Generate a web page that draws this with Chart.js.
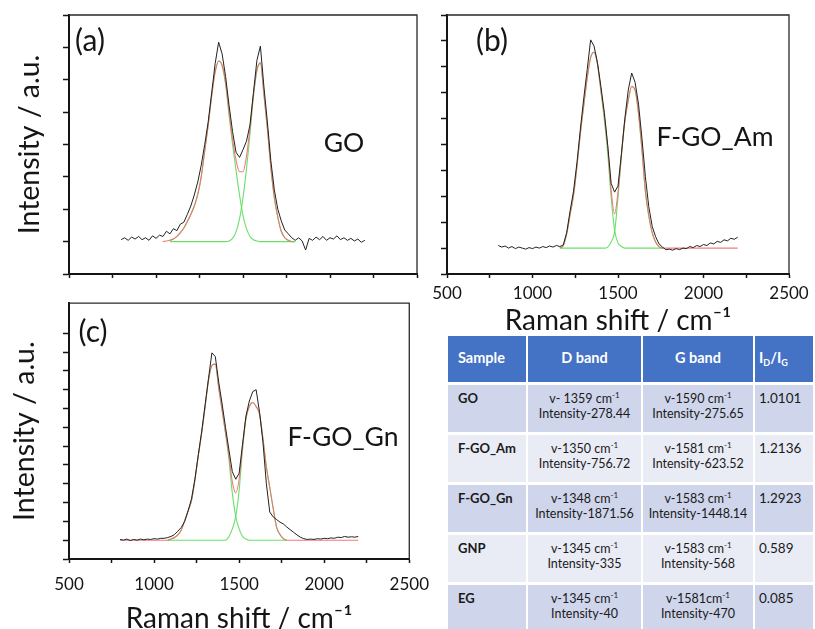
<!DOCTYPE html>
<html>
<head>
<meta charset="utf-8">
<title>Raman spectra</title>
<script src="https://cdn.jsdelivr.net/npm/chart.js@4"></script>
<style>
  html, body { margin: 0; padding: 0; background: #fff; }
  body { width: 815px; height: 629px; position: relative; overflow: hidden;
         font-family: "Lato", "Open Sans", sans-serif; color: #1a1a1a; }
  canvas { position: absolute; }
  #chartA { left: 0; top: 0; }
  #chartB { left: 425px; top: 0; }
  #chartC { left: 0; top: 296px; }

  /* ===== table ===== */
  .band-table { position: absolute; left: 448px; top: 336px; display: grid;
                grid-template-columns: 78px 113px 110px 58px;
                grid-template-rows: 46px 47px 47px 47px 47px 47px;
                column-gap: 2px; row-gap: 3px; font-size: 12.5px; line-height: 15px; }
  .band-table div { box-sizing: border-box; padding-top: 6px; }
  .band-table .hd { background: #4472c4; color: #fff; font-weight: bold; font-size: 14.5px;
                    padding-top: 14px; text-align: center; }
  .band-table .hd.l { text-align: left; padding-left: 10px; }
  .band-table .hd.r { text-align: left; padding-left: 4px; }
  .band-table .dark { background: #cfd5ea; }
  .band-table .light { background: #e9ebf5; }
  .band-table .name { font-weight: bold; padding-left: 10px; font-size: 13px; }
  .band-table .mid { text-align: center; }
  .band-table .ratio { padding-left: 4px; font-size: 13.5px; }
  sup { font-size: 8px; vertical-align: 5px; line-height: 0; }
  sub { font-size: 9px; vertical-align: -3px; line-height: 0; }
</style>
</head>
<body>

<canvas id="chartA" width="425" height="300"></canvas>
<canvas id="chartB" width="390" height="335"></canvas>
<canvas id="chartC" width="440" height="337"></canvas>

<div class="band-table" id="bandTable"></div>

<script>
/* =========================
   DATA
========================= */

const ramanShift = [
    800, 820, 840, 860, 880, 900, 920, 940, 960, 980,
    1000, 1020, 1040, 1060, 1080, 1100, 1120, 1140, 1160, 1180,
    1200, 1220, 1240, 1260, 1280, 1300, 1320, 1340, 1360, 1380,
    1400, 1420, 1440, 1460, 1480, 1500, 1520, 1540, 1560, 1580,
    1600, 1620, 1640, 1660, 1680, 1700, 1720, 1740, 1760, 1780,
    1800, 1820, 1840, 1860, 1880, 1900, 1920, 1940, 1960, 1980,
    2000, 2020, 2040, 2060, 2080, 2100, 2120, 2140, 2160, 2180, 2200
];

const shiftTicks = [500, 1000, 1500, 2000, 2500];

/* (a) GO */
const goRaw = [
    0.03, 0.06, 0.02, 0.07, 0.04, 0.08, 0.03, 0.06, 0.02, 0.09,
    0.05, 0.10, 0.08, 0.16, 0.12, 0.20, 0.17, 0.27, 0.30, 0.42,
    0.55, 0.72, 0.92, 1.18, 1.50, 1.85, 2.30, 2.75, 3.08, 2.90,
    2.55, 2.10, 1.70, 1.38, 1.30, 1.42, 1.55, 1.80, 2.30, 2.80,
    3.02, 2.40, 1.85, 1.25, 0.80, 0.50, 0.32, 0.18, 0.12, 0.06,
    0.02, 0.06, 0.01, -0.13, 0.05, 0.02, 0.07, 0.03, 0.08, 0.02,
    0.06, 0.04, 0.09, 0.03, 0.06, 0.02, 0.05, 0.01, 0.04, -0.01, 0.02
];
const goFit = [
    null, null, null, null, null, null, null, null, null, null,
    null, null, 0.00, 0.01, 0.02, 0.04, 0.08, 0.14, 0.21, 0.31,
    0.42, 0.55, 0.73, 1.00, 1.40, 1.80, 2.25, 2.62, 2.79, 2.72,
    2.45, 2.00, 1.58, 1.26, 1.08, 1.08, 1.32, 1.75, 2.27, 2.65,
    2.76, 2.28, 1.75, 1.15, 0.68, 0.38, 0.16, 0.06, 0.02, 0.00,
    null, null, null, null, null, null, null, null, null, null,
    null, null, null, null, null, null, null, null, null, null, null
];
const goD = [
    null, null, null, null, null, null, null, null, null, null,
    null, null, null, null, 0.02, 0.04, 0.08, 0.14, 0.21, 0.31,
    0.42, 0.55, 0.73, 1.00, 1.40, 1.80, 2.25, 2.62, 2.79, 2.72,
    2.43, 1.95, 1.50, 1.10, 0.72, 0.40, 0.20, 0.08, 0.03, 0.01,
    0, 0, 0, 0, 0, 0, 0, 0, 0, 0,
    0, null, null, null, null, null, null, null, null, null,
    null, null, null, null, null, null, null, null, null, null, null
];
const goG = [
    null, null, null, null, null, null, null, null, null, null,
    null, null, null, null, 0, 0, 0, 0, 0, 0,
    0, 0, 0, 0, 0, 0, 0, 0, 0, 0,
    0, 0.01, 0.05, 0.15, 0.35, 0.68, 1.12, 1.66, 2.24, 2.64,
    2.76, 2.28, 1.75, 1.15, 0.68, 0.38, 0.16, 0.06, 0.02, 0,
    0, null, null, null, null, null, null, null, null, null,
    null, null, null, null, null, null, null, null, null, null, null
];

/* (b) F-GO_Am */
const amRaw = [
    0.05, 0.02, 0.04, 0.00, 0.03, -0.01, 0.02, 0.00, -0.02, 0.01,
    -0.01, 0.02, 0.00, 0.03, 0.01, 0.04, 0.02, 0.05, 0.03, 0.06,
    0.30, 0.72, 1.10, 1.65, 2.30, 2.90, 3.45, 4.02, 3.90, 3.58,
    3.12, 2.62, 1.98, 1.25, 1.08, 1.20, 1.82, 2.50, 3.05, 3.38,
    3.20, 2.78, 2.12, 1.38, 0.80, 0.42, 0.22, 0.08, 0.02, -0.03,
    -0.02, -0.04, -0.01, -0.03, 0.00, -0.01, 0.03, 0.01, 0.05, 0.03,
    0.07, 0.05, 0.10, 0.08, 0.13, 0.11, 0.16, 0.14, 0.19, 0.17, 0.21
];
const amFit = [
    null, null, null, null, null, null, null, null, null, null,
    null, null, null, null, null, null, null, null, 0.00, 0.05,
    0.28, 0.65, 1.02, 1.58, 2.22, 2.76, 3.28, 3.68, 3.78, 3.55,
    3.05, 2.55, 1.95, 1.12, 0.66, 1.08, 1.80, 2.45, 2.85, 3.12,
    3.05, 2.60, 1.90, 1.10, 0.62, 0.30, 0.12, 0.03, 0.00, 0,
    0, 0, 0, 0, 0, 0, 0, 0, 0, 0,
    0, 0, 0, 0, 0, 0, 0, 0, 0, 0, 0
];
const amD = [
    null, null, null, null, null, null, null, null, null, null,
    null, null, null, null, null, null, null, null, 0.00, 0.05,
    0.28, 0.65, 1.02, 1.58, 2.22, 2.76, 3.28, 3.68, 3.78, 3.55,
    3.03, 2.48, 1.82, 0.98, 0.35, 0.10, 0.03, 0.00, 0, 0,
    0, 0, 0, 0, 0, 0, 0, 0, 0, null,
    null, null, null, null, null, null, null, null, null, null,
    null, null, null, null, null, null, null, null, null, null, null
];
const amG = [
    null, null, null, null, null, null, null, null, null, null,
    null, null, null, null, null, null, null, null, 0, 0,
    0, 0, 0, 0, 0, 0, 0, 0, 0, 0,
    0, 0, 0.02, 0.12, 0.31, 0.98, 1.78, 2.45, 2.85, 3.12,
    3.05, 2.60, 1.90, 1.10, 0.62, 0.30, 0.12, 0.03, 0.00, null,
    null, null, null, null, null, null, null, null, null, null,
    null, null, null, null, null, null, null, null, null, null, null
];

/* (c) F-GO_Gn */
const gnRaw = [
    0.02, 0.00, 0.03, -0.01, 0.02, 0.00, 0.03, 0.01, 0.03, 0.02,
    0.04, 0.03, 0.05, 0.05, 0.07, 0.10, 0.15, 0.24, 0.34, 0.50,
    0.78, 1.10, 1.62, 2.27, 2.90, 3.60, 4.30, 4.98, 4.88, 4.20,
    3.62, 3.00, 2.40, 1.82, 1.62, 1.78, 2.55, 3.30, 3.70, 3.95,
    4.00, 3.40, 2.60, 1.50, 0.75, 0.62, 0.55, 0.48, 0.43, 0.35,
    0.28, 0.21, 0.14, 0.08, 0.04, 0.02, 0.03, 0.02, 0.04, 0.03,
    0.05, 0.04, 0.06, 0.05, 0.08, 0.07, 0.10, 0.08, 0.09, 0.08, 0.10
];
const gnFit = [
    0, 0, 0, 0, 0, 0, 0, 0, 0, 0,
    0, 0, 0, 0, 0.00, 0.03, 0.07, 0.14, 0.27, 0.52,
    0.78, 1.05, 1.60, 2.25, 2.85, 3.55, 4.25, 4.65, 4.68, 4.05,
    3.45, 2.85, 2.25, 1.55, 1.26, 1.62, 2.50, 3.25, 3.55, 3.66,
    3.55, 3.35, 2.70, 1.95, 1.40, 0.85, 0.35, 0.15, 0.04, 0.00,
    0, 0, 0, 0, 0, 0, 0, 0, 0, 0,
    0, 0, 0, 0, 0, 0, 0, 0, 0, 0, 0
];
const gnD = [
    null, null, null, null, null, null, null, null, null, null,
    null, null, null, null, 0.00, 0.03, 0.07, 0.14, 0.27, 0.52,
    0.78, 1.05, 1.60, 2.25, 2.85, 3.55, 4.25, 4.65, 4.68, 4.05,
    3.45, 2.85, 2.15, 1.25, 0.63, 0.30, 0.10, 0.03, 0.00, 0,
    0, 0, 0, 0, 0, 0, 0, 0, 0, 0,
    null, null, null, null, null, null, null, null, null, null,
    null, null, null, null, null, null, null, null, null, null, null
];
const gnG = [
    null, null, null, null, null, null, null, null, null, null,
    null, null, null, null, 0, 0, 0, 0, 0, 0,
    0, 0, 0, 0, 0, 0, 0, 0, 0, 0,
    0, 0, 0.10, 0.30, 0.63, 1.32, 2.40, 3.22, 3.55, 3.66,
    3.55, 3.35, 2.70, 1.95, 1.40, 0.85, 0.35, 0.15, 0.04, 0.00,
    null, null, null, null, null, null, null, null, null, null,
    null, null, null, null, null, null, null, null, null, null, null
];

/* table */
const tableHead = ["Sample", "D band", "G band", "I<sub>D</sub>/I<sub>G</sub>"];
const sampleNames = ["GO", "F-GO_Am", "F-GO_Gn", "GNP", "EG"];
const dBandPos = ["v- 1359 cm<sup>-1</sup>", "v-1350 cm<sup>-1</sup>", "v-1348 cm<sup>-1</sup>", "v-1345 cm<sup>-1</sup>", "v-1345 cm<sup>-1</sup>"];
const dBandInt = ["278.44", "756.72", "1871.56", "335", "40"];
const gBandPos = ["v-1590 cm<sup>-1</sup>", "v-1581 cm<sup>-1</sup>", "v-1583 cm<sup>-1</sup>", "v-1583 cm<sup>-1</sup>", "v-1581cm<sup>-1</sup>"];
const gBandInt = ["275.65", "623.52", "1448.14", "568", "470"];
const ratioIdIg = ["1.0101", "1.2136", "1.2923", "0.589", "0.085"];

/* =========================
   STYLE
========================= */

const FONT = "Lato, 'Open Sans', sans-serif";
const INK = "#151515";
const RAW_COLOR = "#222222";
const FIT_COLOR = "rgba(240,110,110,0.9)";
const BAND_COLOR = "rgba(90,220,90,0.9)";

function toPoints(values){
    return ramanShift.map((x, i) => ({ x: x, y: values[i] }));
}

/* frame + panel labels */
const panelDecor = {
    id: "panelDecor",
    afterDraw(chart, args, opts){
        const ctx = chart.ctx;
        const a = chart.chartArea;
        ctx.save();
        ctx.strokeStyle = "#2a2a2a";
        ctx.lineWidth = 1.3;
        ctx.beginPath();
        ctx.moveTo(a.left, a.top);
        ctx.lineTo(a.right, a.top);
        ctx.lineTo(a.right, a.bottom);
        ctx.stroke();
        ctx.fillStyle = INK;
        ctx.textBaseline = "middle";
        ctx.textAlign = "center";
        ctx.font = "30px " + FONT;
        ctx.fillText(opts.tag, opts.tagX, opts.tagY);
        ctx.font = "26.5px " + FONT;
        ctx.fillText(opts.name, opts.nameX, opts.nameY);
        ctx.restore();
    }
};

function makePanel(id, cfg){

    return new Chart(document.getElementById(id), {

        type: "line",

        data: {
            datasets: [
                { data: toPoints(cfg.raw), borderColor: RAW_COLOR, borderWidth: 1, tension: 0 },
                { data: toPoints(cfg.fit), borderColor: FIT_COLOR, borderWidth: 1.1, cubicInterpolationMode: "monotone" },
                { data: toPoints(cfg.d), borderColor: BAND_COLOR, borderWidth: 1.1, cubicInterpolationMode: "monotone" },
                { data: toPoints(cfg.g), borderColor: BAND_COLOR, borderWidth: 1.1, cubicInterpolationMode: "monotone" }
            ]
        },

        options: {
            responsive: false,
            animation: false,
            events: [],
            elements: { point: { radius: 0 } },
            layout: { padding: cfg.padding },
            plugins: {
                legend: { display: false },
                tooltip: { enabled: false },
                panelDecor: cfg.decor
            },
            scales: {
                x: {
                    type: "linear",
                    min: 500,
                    max: 2500,
                    afterFit: s => { s.height = cfg.xHeight; },
                    afterBuildTicks: s => {
                        s.ticks = [];
                        for (let v = 500; v <= 2500; v += 250) s.ticks.push({ value: v });
                    },
                    border: { display: true, color: INK, width: 2 },
                    grid: { drawOnChartArea: false, drawTicks: true, tickLength: 4, color: INK, tickWidth: 1.5 },
                    ticks: {
                        display: cfg.xLabels,
                        padding: cfg.xTickPad,
                        color: INK,
                        font: { family: FONT, size: 17 },
                        maxRotation: 0,
                        autoSkip: false,
                        callback: v => shiftTicks.includes(v) ? String(v) : ""
                    },
                    title: {
                        display: cfg.xTitle,
                        text: "Raman shift / cm\u207B\u00B9",
                        color: INK,
                        font: { family: FONT, size: 28, lineHeight: 1 },
                        padding: { top: 0, bottom: cfg.xTitlePad }
                    }
                },
                y: {
                    min: -0.5,
                    max: cfg.yMax,
                    afterFit: s => { s.width = cfg.yWidth; },
                    afterBuildTicks: s => {
                        s.ticks = s.ticks.filter(t => Math.abs(t.value * 2 - Math.round(t.value * 2)) < 1e-6);
                    },
                    border: { display: true, color: INK, width: 2 },
                    grid: { drawOnChartArea: false, drawTicks: true, tickLength: 6, color: INK, tickWidth: 1.5 },
                    ticks: { stepSize: 0.5, padding: 0, callback: () => "" },
                    title: {
                        display: cfg.yTitle,
                        text: "Intensity / a.u.",
                        color: INK,
                        font: { family: FONT, size: 28.5, lineHeight: 1 },
                        padding: { top: cfg.yTitlePad, bottom: 0 }
                    }
                }
            }
        },

        plugins: [panelDecor]

    });

}

/* =========================
   CHARTS
========================= */

makePanel("chartA", {
    raw: goRaw, fit: goFit, d: goD, g: goG,
    yMax: 3.5,
    padding: { top: 15, right: 8, left: 0, bottom: 0 },
    xHeight: 26, yWidth: 69,
    xLabels: false, xTickPad: 6, xTitle: false, xTitlePad: 0,
    yTitle: true, yTitlePad: 16,
    decor: { tag: "(a)", tagX: 90, tagY: 41, name: "GO", nameX: 344, nameY: 143 }
});

makePanel("chartB", {
    raw: amRaw, fit: amFit, d: amD, g: amG,
    yMax: 4.5,
    padding: { top: 15, right: 26, left: 0, bottom: 0 },
    xHeight: 61, yWidth: 22,
    xLabels: true, xTickPad: 5, xTitle: true, xTitlePad: 0,
    yTitle: false, yTitlePad: 0,
    decor: { tag: "(b)", tagX: 67, tagY: 41, name: "F-GO_Am", nameX: 290, nameY: 137 }
});

makePanel("chartC", {
    raw: gnRaw, fit: gnFit, d: gnD, g: gnG,
    yMax: 6.3,
    padding: { top: 3, right: 21, left: 0, bottom: 0 },
    xHeight: 74, yWidth: 69,
    xLabels: true, xTickPad: 11, xTitle: true, xTitlePad: 0,
    yTitle: true, yTitlePad: 11,
    decor: { tag: "(c)", tagX: 93, tagY: 36, name: "F-GO_Gn", nameX: 343, nameY: 141 }
});

/* =========================
   TABLE
========================= */

function buildTable(){

    const box = document.getElementById("bandTable");
    let html = "";

    tableHead.forEach((h, i) => {
        const cls = i === 0 ? "hd l" : (i === 3 ? "hd r" : "hd");
        html += `<div class="${cls}">${h}</div>`;
    });

    sampleNames.forEach((name, i) => {
        const shade = i % 2 === 0 ? "dark" : "light";
        html += `<div class="${shade} name">${name}</div>`;
        html += `<div class="${shade} mid">${dBandPos[i]}<br>Intensity-${dBandInt[i]}</div>`;
        html += `<div class="${shade} mid">${gBandPos[i]}<br>Intensity-${gBandInt[i]}</div>`;
        html += `<div class="${shade} ratio">${ratioIdIg[i]}</div>`;
    });

    box.innerHTML = html;

}

buildTable();
</script>
</body>
</html>
